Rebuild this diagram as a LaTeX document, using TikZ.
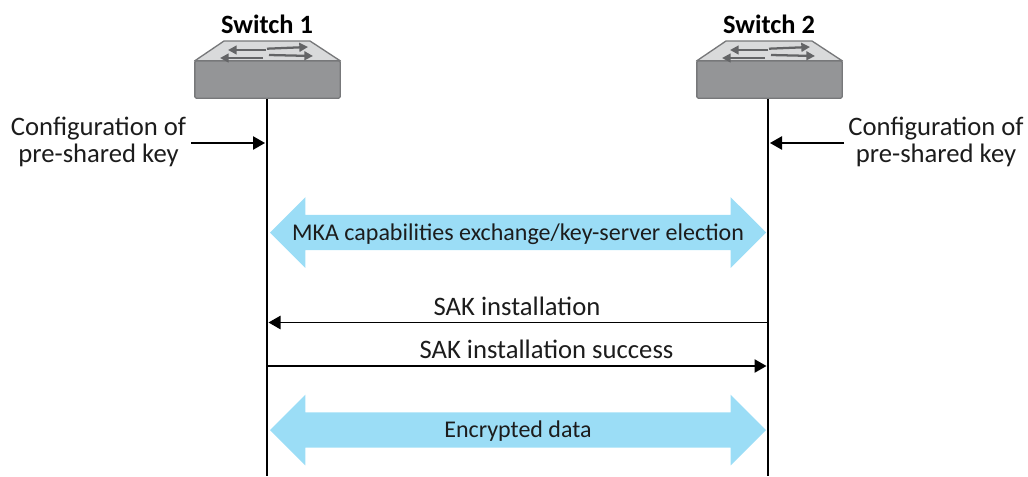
\documentclass[tikz,border=0pt]{standalone}
\usepackage{fontspec}
\setmainfont{Carlito}
\usetikzlibrary{arrows.meta,shapes.arrows}
\definecolor{skyarrow}{HTML}{9BDDF6}
\definecolor{swtop}{HTML}{D9DADB}
\definecolor{swbody}{HTML}{949597}
\definecolor{swedge}{HTML}{77787A}
\definecolor{swarrow}{HTML}{636466}
\definecolor{inktext}{HTML}{1C1C1C}
\tikzset{
  x=0.75pt,y=-0.75pt,
  lifeline/.style={line width=2pt,black},
  msg/.style={line width=1.1pt,black,-{Triangle[length=9pt,width=10pt]}},
  swname/.style={font=\fontsize{19.8}{24}\selectfont\bfseries,text=black,inner sep=0pt},
  lab/.style={font=\fontsize{20}{20}\selectfont,text=inktext,inner sep=0pt},
  cfg/.style={lab,align=center},
  swface/.style={fill=swtop,draw=swedge,line width=1pt,line join=round},
  swfront/.style={rectangle,fill=swbody,draw=swedge,line width=1pt,rounded corners=1pt,minimum width=109pt,minimum height=28pt,inner sep=0pt},
  swarr/.style={draw=swarrow,line width=1.7pt,-{Triangle[length=6.5pt,width=6.5pt]}},
  bigarrow/.style={double arrow,fill=skyarrow,draw=none,double arrow head extend=13.4pt,
    minimum height=372pt,text height=18.8pt,text depth=7.2pt,inner xsep=0pt,inner ysep=0pt,
    font=\fontsize{18}{22}\selectfont,text=inktext}
}
\begin{document}
\begin{tikzpicture}
\useasboundingbox (0,0) rectangle (1028,476);
% switch 1
\path[swface] (224,41) -- (310,41) -- (340.5,61) -- (194.5,61) -- cycle;
\node[swfront] (sw1) at (267.5,79.5) {};
\draw[swarr] (266,50) -- (228,50);
\draw[swarr] (263,58) -- (220,58);
\draw[swarr] (267,48.7) -- (308,47);
\draw[swarr] (269,55) -- (313,56);
\node[swname] (name1) at (267,24.5) {Switch 1};
% switch 2
\path[swface] (726,41) -- (812,41) -- (842.5,61) -- (696.5,61) -- cycle;
\node[swfront] (sw2) at (769.5,79.5) {};
\draw[swarr] (768,50) -- (730,50);
\draw[swarr] (765,58) -- (722,58);
\draw[swarr] (769,48.7) -- (810,47);
\draw[swarr] (771,55) -- (815,56);
\node[swname] (name2) at (769,24.5) {Switch 2};
% lifelines
\coordinate (end1) at (267,476);
\coordinate (end2) at (768,476);
\draw[lifeline] (sw1.south -| end1) -- (end1);
\draw[lifeline] (sw2.south -| end2) -- (end2);
% configuration
\node[cfg] (cfgl) at (98.5,142) {Configuration of\\pre-shared key};
\node[cfg] (cfgr) at (936,142) {Configuration of\\pre-shared key};
\coordinate (cl0) at (191,143);
\coordinate (cl1) at (265,143);
\coordinate (cr0) at (844,143);
\coordinate (cr1) at (770,143);
\draw[msg] (cl0) -- (cl1);
\draw[msg] (cr0) -- (cr1);
% block arrows
\node[bigarrow] (mka) at (518,232.5) {MKA capabilities exchange/key-server election};
\node[bigarrow] (enc) at (518,430) {Encrypted data};
% messages
\node[lab] (sak) at (517,306) {SAK installation};
\coordinate (s0) at (767,322.5);
\coordinate (s1) at (268.5,322.5);
\draw[msg] (s0) -- (s1);
\node[lab] (sakok) at (546.5,349.5) {SAK installation success};
\coordinate (t0) at (268,366);
\coordinate (t1) at (766.5,366);
\draw[msg] (t0) -- (t1);
\end{tikzpicture}
\end{document}
